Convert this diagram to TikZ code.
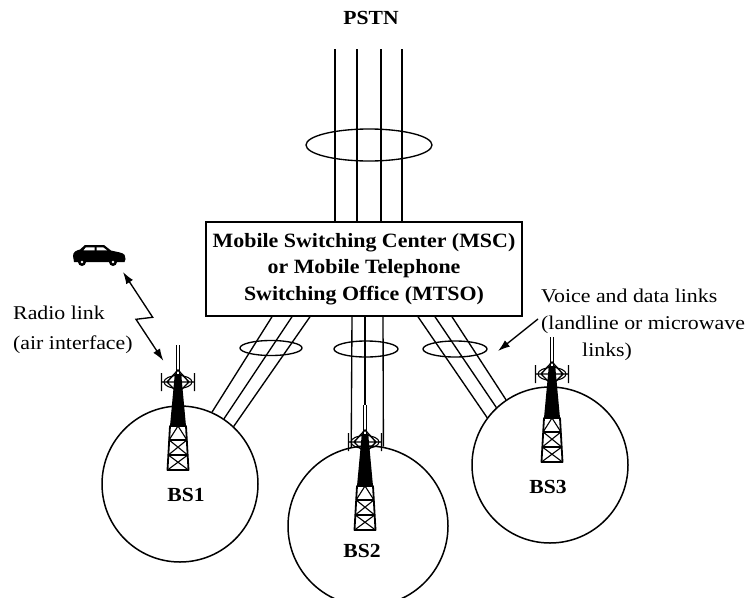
\documentclass[tikz,border=0pt]{standalone}
\usepackage{fontspec}
\setmainfont{Liberation Serif}
\newfontfamily\labelfont[FakeStretch=1.08]{Liberation Serif}
\newfontfamily\notefont[FakeStretch=1.12]{Liberation Serif}
\usetikzlibrary{arrows.meta,calc}

\begin{document}
\begin{tikzpicture}[x=1pt,y=-1pt,
  wire/.style={line width=1.35pt},
  cell/.style={circle,draw,line width=1.5pt,minimum size=156pt,inner sep=0pt},
  bslabel/.style={font=\labelfont\bfseries\fontsize{20}{24}\selectfont,inner sep=0pt},
  note/.style={font=\notefont\fontsize{19.5}{27}\selectfont,align=left,inner sep=0pt},
  tip/.style={-{Latex[length=12pt,width=8pt]}},
  radio/.style={line width=1.35pt,{Latex[length=12pt,width=8pt]}-{Latex[length=12pt,width=8pt]}},
  tower/.pic={
    % lattice foot
    \draw[line width=1.8pt,fill=white,line join=round]
      (-10.5,0) -- (10.5,0) -- (8,-44) -- (-8,-44) -- cycle;
    \draw[line width=1.2pt] (-9.9,-15) -- (9.9,-15) (-9.1,-30) -- (9.1,-30);
    \draw[line width=1.1pt] (-10.5,0) -- (9.7,-15) (10.5,0) -- (-9.7,-15)
      (-9.7,-15) -- (8.9,-30) (9.7,-15) -- (-8.9,-30)
      (-8.9,-30) -- (0,-44) -- (8.9,-30);
    % solid mast
    \fill (-8,-44) -- (8,-44) -- (3.2,-96) -- (-3.2,-96) -- cycle;
    % head with cross arms
    \draw[line width=1.4pt] (-16.5,-88) -- (16.5,-88)
      (-16.5,-79) -- (-16.5,-97) (16.5,-79) -- (16.5,-97)
      (0,-100) -- (-11,-88) -- (0,-77) -- (11,-88) -- cycle;
    \draw[line width=1.1pt] (0,-88) ellipse [x radius=14, y radius=6.5];
    % antenna
    \draw[line width=1.1pt] (-1.7,-95) -- (-1.7,-125) (1.7,-95) -- (1.7,-125);
  }
]
\fill[white] (0,0) rectangle (754,597);
\useasboundingbox (0,0) rectangle (754,597);

% coverage cells
\node[cell] (cell1) at (180,484) {};
\node[cell,minimum size=160pt] (cell2) at (368,526) {};
\node[cell] (cell3) at (550,465) {};

% base station towers
\pic at (178,470) {tower};
\pic at (365,530) {tower};
\pic at (552,462) {tower};
\coordinate (ant2) at (365,405);

\node[bslabel] (bs1) at (186,495) {BS1};
\node[bslabel] (bs2) at (362,551) {BS2};
\node[bslabel] (bs3) at (548,487) {BS3};

% switching centre
\node[draw,line width=1.5pt,minimum width=316pt,minimum height=94pt,inner sep=0pt,
      align=center,font=\labelfont\bfseries\fontsize{20.3}{26.5}\selectfont]
  (msc) at (364,269) {Mobile Switching Center (MSC)\\or Mobile Telephone\\Switching Office (MTSO)};

% trunks to the public network
\node[bslabel] (pstn) at (371,18) {PSTN};
\foreach \dx in {-29,-7,17,38}
  \draw[wire] ($(msc.north)+(\dx,0)$) -- ++(0,-172);
\draw[wire] (369,145) ellipse [x radius=63, y radius=16];

% links to the base stations
\foreach \dx/\ang in {-92/66,-72/56,-54/47}
  \draw[wire] ($(msc.south)+(\dx,0)$) -- (cell1.\ang);
\draw[wire] ($(msc.south)+(-12,0)$) -- (cell2.102);
\draw[wire] ($(msc.south)+(19,0)$) -- (cell2.79);
\draw[wire] (msc.south -| ant2) -- (ant2);
\foreach \dx/\ang in {54/143,71/133,88/124}
  \draw[wire] ($(msc.south)+(\dx,0)$) -- (cell3.\ang);

\draw[wire] (271,348) ellipse [x radius=31, y radius=7.5];
\draw[wire] (366,349) ellipse [x radius=32, y radius=8];
\draw[wire] (455,349) ellipse [x radius=32, y radius=8];

% mobile unit
\fill (73,256) .. controls (73,252) and (76,250.5) .. (80,249.5) -- (85,245)
  -- (104,245) -- (111,250.5) -- (120,252.5)
  .. controls (124.5,253.5) and (126,256) .. (125.5,259) -- (124.5,262) -- (74,262) -- cycle;
\fill (82,262) circle (4) (113,262) circle (4);
\fill[white] (82,262) circle (1.3) (113,262) circle (1.3);
\fill[white] (86,247.3) -- (94.5,247.3) -- (94.5,250.3) -- (83.5,250.3) -- cycle;
\fill[white] (96.5,247.3) -- (103,247.3) -- (107,250.3) -- (96.5,250.3) -- cycle;

% radio link
\coordinate (carlink) at (123,272);
\coordinate (towerlink) at (163.3,360.7);
\draw[radio] (carlink) -- ($(carlink)+(29.7,45.3)$) -- ++(-16.7,2) -- (towerlink);
\node[note,font=\notefont\fontsize{19.5}{30}\selectfont,anchor=west] (radiotext) at (13,330)
  {Radio link\\(air interface)};

% landline / microwave note
\node[note,anchor=west] (voice) at (541,325)
  {Voice and data links\\(landline or microwave\\\hspace*{41pt}links)};
\coordinate (linkmark) at (498,351);
\draw[wire,tip] ($(voice.west)+(-3,-6)$) -- (linkmark);
\end{tikzpicture}
\end{document}
